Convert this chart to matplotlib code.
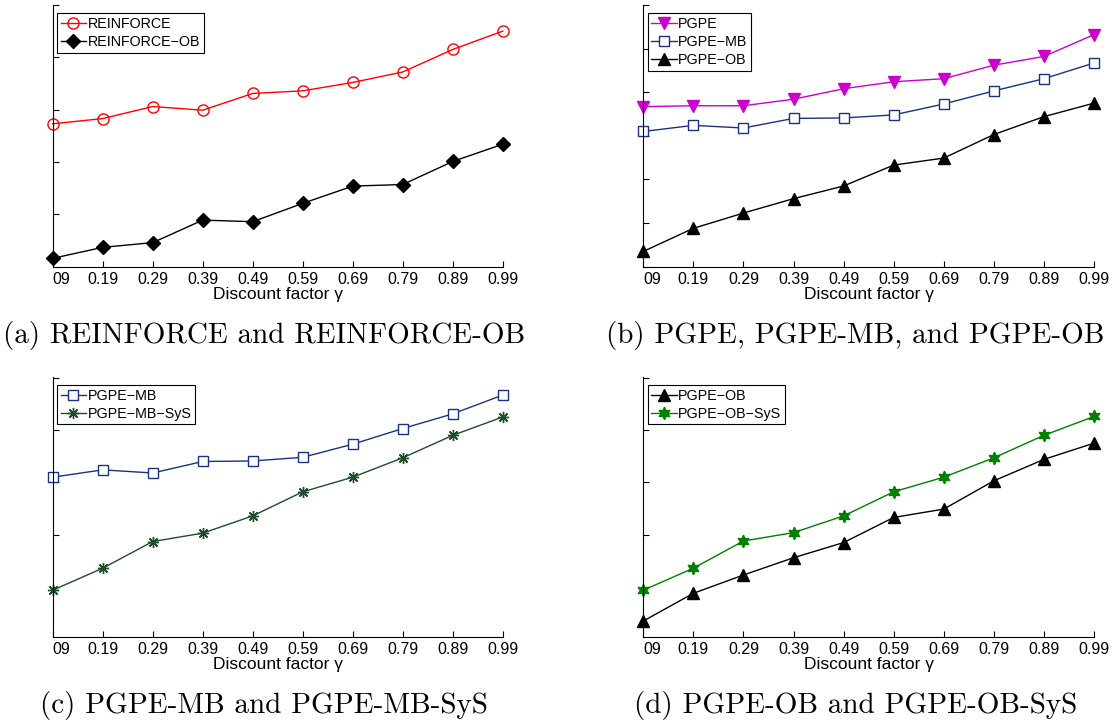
import numpy as np
from matplotlib import pyplot as plt

gamma = [0.09, 0.19, 0.29, 0.39, 0.49, 0.59, 0.69, 0.79, 0.89, 0.99]
gamma_labels = ['09', '0.19', '0.29', '0.39', '0.49', '0.59', '0.69', '0.79', '0.89', '0.99']

# values (arbitrary units, y axis has no labels)
reinforce = [2.73, 2.83, 3.06, 2.99, 3.31, 3.36, 3.52, 3.72, 4.15, 4.50]
reinforce_ob = [0.16, 0.37, 0.46, 0.89, 0.86, 1.21, 1.54, 1.57, 2.01, 2.34]
pgpe = [3.67, 3.69, 3.69, 3.84, 4.08, 4.24, 4.31, 4.62, 4.82, 5.32]
pgpe_mb = [3.10, 3.24, 3.18, 3.40, 3.41, 3.48, 3.73, 4.03, 4.31, 4.67]
pgpe_ob = [0.35, 0.88, 1.23, 1.56, 1.85, 2.33, 2.49, 3.03, 3.44, 3.75]
pgpe_mb_sys = [0.94, 1.36, 1.87, 2.03, 2.36, 2.82, 3.10, 3.47, 3.90, 4.25]
pgpe_ob_sys = [0.94, 1.36, 1.88, 2.04, 2.36, 2.82, 3.10, 3.47, 3.90, 4.26]

plt.rcParams['font.family'] = ['Liberation Sans', 'DejaVu Sans']
plt.rcParams['font.size'] = 10

fig = plt.figure(figsize=(11.12, 7.22), dpi=100)

pos = [[0.0474, 0.6306, 0.4047, 0.3625],
       [0.5785, 0.6306, 0.4053, 0.3625],
       [0.0474, 0.1181, 0.4047, 0.3601],
       [0.5785, 0.1181, 0.4053, 0.3601]]
ylims = [(0, 5), (0, 6), (0.05, 5.02), (0.05, 5.02)]
captions = ['(a) REINFORCE and REINFORCE-OB',
            '(b) PGPE, PGPE-MB, and PGPE-OB',
            '(c) PGPE-MB and PGPE-MB-SyS',
            '(d) PGPE-OB and PGPE-OB-SyS']

axes = [fig.add_axes(p) for p in pos]

ax = axes[0]
ax.plot(gamma, reinforce, color='red', lw=1.0, marker='o', ms=8, mfc='none', mec='red', mew=1.0, label='REINFORCE')
ax.plot(gamma, reinforce_ob, color='black', lw=1.0, marker='D', ms=7.5, mfc='black', mec='black', label='REINFORCE\u2212OB')

ax = axes[1]
ax.plot(gamma, pgpe, color='#cc00cc', lw=1.0, marker='v', ms=8, mfc='#cc00cc', mec='#cc00cc', label='PGPE')
ax.plot(gamma, pgpe_mb, color='#1a3380', lw=1.0, marker='s', ms=7, mfc='white', mec='#1a3380', mew=1.0, label='PGPE\u2212MB')
ax.plot(gamma, pgpe_ob, color='black', lw=1.0, marker='^', ms=8, mfc='black', mec='black', label='PGPE\u2212OB')

ax = axes[2]
ax.plot(gamma, pgpe_mb, color='#1a3380', lw=1.0, marker='s', ms=7, mfc='white', mec='#1a3380', mew=1.0, label='PGPE\u2212MB')
ax.plot(gamma, pgpe_mb_sys, color='#1e4d2b', lw=1.0, marker=(8, 2, 0), ms=8, mec='#1e4d2b', mew=1.0, label='PGPE\u2212MB\u2212SyS')

ax = axes[3]
ax.plot(gamma, pgpe_ob, color='black', lw=1.0, marker='^', ms=8, mfc='black', mec='black', label='PGPE\u2212OB')
ax.plot(gamma, pgpe_ob_sys, color='#008000', lw=1.0, marker=(6, 1, 0), ms=9, mfc='#008000', mec='#008000', label='PGPE\u2212OB\u2212SyS')

for ax, yl, cap in zip(axes, ylims, captions):
    ax.set_xlim(0.09, 0.99)
    ax.set_ylim(*yl)
    ax.set_yticks(np.arange(np.ceil(yl[0]), np.floor(yl[1]) + 1))
    ax.set_yticklabels([])
    ax.set_xticks(gamma)
    ax.set_xticklabels(gamma_labels)
    ax.get_xticklabels()[0].set_horizontalalignment('left')
    ax.tick_params(direction='in', length=4, width=0.8, labelsize=11.5, pad=4)
    ax.spines['top'].set_visible(False)
    ax.spines['right'].set_visible(False)
    for s in ['left', 'bottom']:
        ax.spines[s].set_linewidth(0.8)
    for m in ax.lines:
        m.set_clip_on(False)
    ax.set_xlabel('Discount factor \u03b3', fontsize=12.5, labelpad=0)
    leg = ax.legend(loc='upper left', bbox_to_anchor=(0.0, 0.985), fontsize=10.3, frameon=True, fancybox=False,
                    edgecolor='black', framealpha=1, borderpad=0.25, labelspacing=0.3, handlelength=1.8,
                    handletextpad=0.1, borderaxespad=0.3)
    leg.get_frame().set_linewidth(0.8)
    bb = ax.get_position()
    fig.text(bb.x0 + bb.width / 2 - 0.012, bb.y0 - 0.095, cap, family='cmr10', fontsize=21,
             ha='center', va='center')

plt.savefig('out.png', dpi=100)
